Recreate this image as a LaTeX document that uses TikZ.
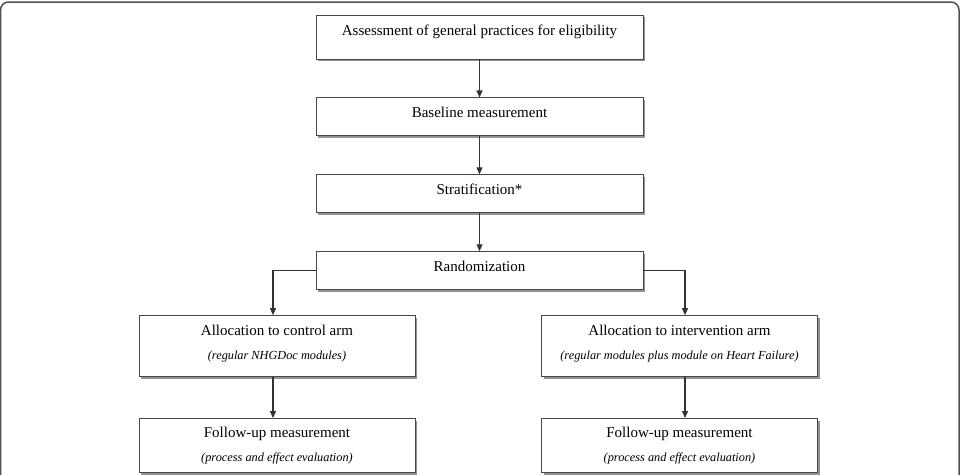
\documentclass[tikz,border=0pt]{standalone}
\usepackage{fontspec}
\setmainfont{Liberation Serif}
\usetikzlibrary{arrows.meta,positioning,shadows}
\definecolor{flowline}{HTML}{333333}
\definecolor{flowedge}{HTML}{474747}
\definecolor{flowframe}{HTML}{505050}
\newcommand\armnote{\fontsize{12.3}{14}\selectfont\itshape}

\begin{document}
\begin{tikzpicture}[x=1pt, y=-1pt,
  node distance=38pt,
  basebox/.style={draw=flowedge, line width=0.9pt, fill=white,
    minimum width=327pt, minimum height=38pt, align=center,
    font=\fontsize{15}{18}\selectfont,
    drop shadow={shadow xshift=2.2pt, shadow yshift=-2.2pt, fill=gray!85, opacity=1}},
  box/.style={basebox, text height=10pt, text depth=8pt},
  armbox/.style={basebox, minimum width=276pt, minimum height=61pt},
  flow/.style={-{Triangle[length=7pt,width=6pt]}, flowline, line width=1.1pt}]
\useasboundingbox (0,0) rectangle (965,474);
\draw[flowframe, line width=1.5pt, rounded corners=8pt] (0.5,2) rectangle (959,520);

\node[box, minimum height=44pt, text depth=14pt] (assess) at (479.5,37)
  {Assessment of general practices for eligibility};
\node[box, below=of assess] (base) {Baseline measurement};
\node[box, below=of base] (strat) {Stratification*};
\node[box, below=of strat] (rnd) {Randomization};

\node[armbox, below=25pt of rnd, xshift=-202.5pt] (ctrl)
  {Allocation to control arm\\[6pt]{\armnote (regular NHGDoc modules)}\rule[-8pt]{0pt}{8pt}};
\node[armbox, below=25pt of rnd, xshift=200pt] (int)
  {Allocation to intervention arm\\[6pt]{\armnote (regular modules plus module on Heart Failure)}\rule[-8pt]{0pt}{8pt}};
\node[armbox, minimum height=54pt, below=41pt of ctrl] (fuctrl)
  {Follow-up measurement\\[6pt]{\armnote (process and effect evaluation)}};
\node[armbox, minimum height=54pt, below=41pt of int] (fuint)
  {Follow-up measurement\\[6pt]{\armnote (process and effect evaluation)}};

\draw[flow] (assess) -- (base);
\draw[flow] (base) -- (strat);
\draw[flow] (strat) -- (rnd);
\draw[flow] (rnd.west) -| ([xshift=-4pt]ctrl.north);
\draw[flow] (rnd.east) -| ([xshift=5.5pt]int.north);
\draw[flow] ([xshift=-4pt]ctrl.south) -- ([xshift=-4pt]fuctrl.north);
\draw[flow] ([xshift=5.5pt]int.south) -- ([xshift=5.5pt]fuint.north);
\end{tikzpicture}
\end{document}
